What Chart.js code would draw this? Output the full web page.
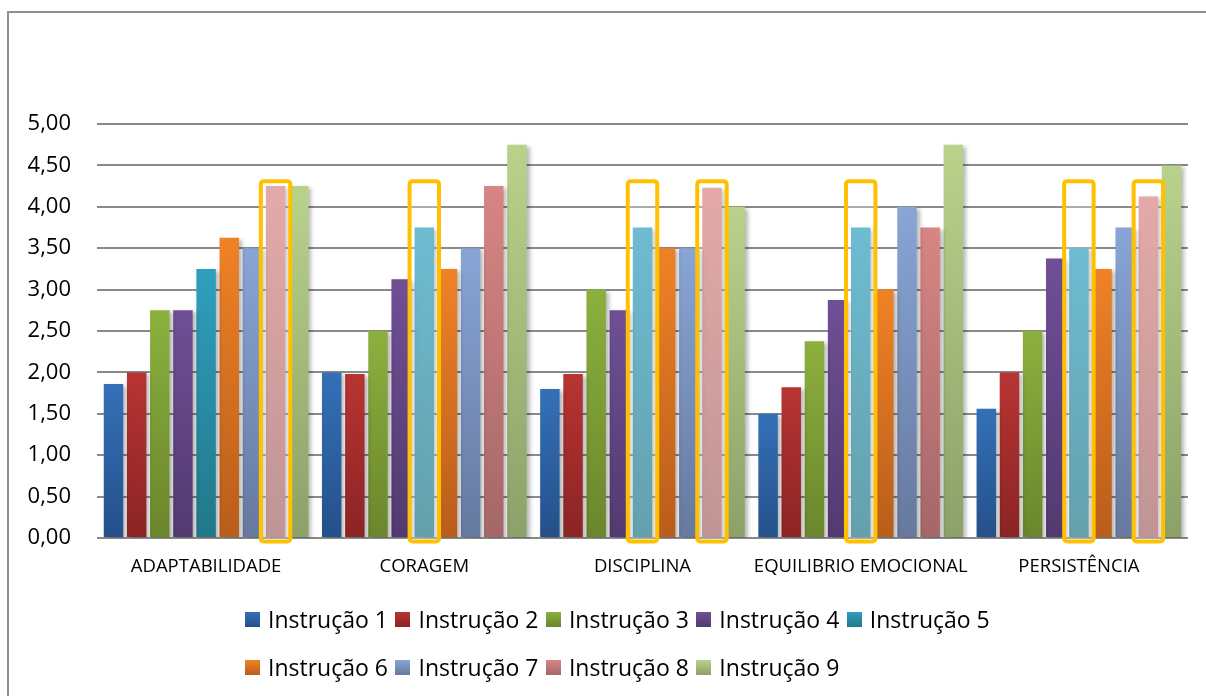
<!DOCTYPE html>
<html>
<head>
<meta charset="utf-8">
<script src="https://cdn.jsdelivr.net/npm/chart.js@4.4.0/dist/chart.umd.min.js"></script>
<style>
  html, body { margin: 0; padding: 0; background: #fff; overflow: hidden; width: 1206px; height: 696px; }
  #wrap { position: relative; width: 1206px; height: 696px; overflow: hidden; }
  #frame { position: absolute; left: 7px; top: 11px; width: 1300px; height: 800px; border: 2px solid #8f8f8f; pointer-events: none; }
  canvas { position: absolute; left: 0; top: 0; }
  #legend { position: absolute; left: 245px; top: 595px; width: 790px; display: flex; flex-wrap: wrap;
            font-family: 'Open Sans', sans-serif; font-size: 23px; color: #000; }
  #legend .item { display: flex; align-items: center; height: 48px; margin-right: 7.5px; white-space: nowrap; }
  #legend .sw { width: 15px; height: 15px; margin-right: 8px; }
</style>
</head>
<body>
<div id="wrap">
  <canvas id="chart" width="1206" height="696"></canvas>
  <div id="frame"></div>
  <div id="legend"></div>
</div>
<script>
// Categories and the nine instruction series (mean scores, 0–5 scale)
const categories = ['ADAPTABILIDADE', 'CORAGEM', 'DISCIPLINA', 'EQUILIBRIO EMOCIONAL', 'PERSISTÊNCIA'];
const seriesNames = ['Instrução 1', 'Instrução 2', 'Instrução 3', 'Instrução 4', 'Instrução 5',
                     'Instrução 6', 'Instrução 7', 'Instrução 8', 'Instrução 9'];

const instrucao1 = [1.86, 2.00, 1.80, 1.50, 1.56];
const instrucao2 = [2.00, 1.98, 1.98, 1.82, 2.00];
const instrucao3 = [2.75, 2.50, 3.00, 2.375, 2.50];
const instrucao4 = [2.75, 3.125, 2.75, 2.875, 3.375];
const instrucao5 = [3.25, 3.75, 3.75, 3.75, 3.50];
const instrucao6 = [3.625, 3.25, 3.50, 3.00, 3.25];
const instrucao7 = [3.50, 3.50, 3.50, 4.00, 3.75];
const instrucao8 = [4.25, 4.25, 4.23, 3.75, 4.125];
const instrucao9 = [4.25, 4.75, 4.00, 4.75, 4.50];

const yTickLabels = ['0,00', '0,50', '1,00', '1,50', '2,00', '2,50', '3,00', '3,50', '4,00', '4,50', '5,00'];

// Bars outlined in yellow: category index and series index
const highlightCategory = [0, 1, 2, 2, 3, 4, 4];
const highlightSeries   = [7, 4, 4, 7, 4, 4, 7];

const seriesValues = [instrucao1, instrucao2, instrucao3, instrucao4, instrucao5,
                      instrucao6, instrucao7, instrucao8, instrucao9];

// Vertical gradient per series: light at the top, darker at the base
const colorTop    = ['#3470b7', '#b83433', '#8cb03e', '#704f96', '#2f9fbf', '#ef8226', '#88a5d6', '#d88584', '#b9d28b'];
const colorBottom = ['#24508a', '#8b2424', '#6a862c', '#523a70', '#217889', '#b95d1b', '#66799f', '#a56767', '#8ca168'];

const HIGHLIGHT_TOP = 4.31;

function barGradient(i) {
  return (ctx) => {
    const chart = ctx.chart;
    if (!chart.chartArea || ctx.type !== 'data') return colorTop[i];
    const y = chart.scales.y;
    const top = y.getPixelForValue(ctx.raw);
    const base = y.getPixelForValue(0);
    const g = chart.ctx.createLinearGradient(0, top, 0, base);
    g.addColorStop(0, colorTop[i]);
    g.addColorStop(1, colorBottom[i]);
    return g;
  };
}

const datasets = seriesValues.map((vals, i) => ({
  label: seriesNames[i],
  data: vals,
  backgroundColor: barGradient(i),
  borderWidth: 0,
  categoryPercentage: 0.955,
  barPercentage: 0.84
}));

// Soft drop shadow behind the bars
const barShadow = {
  id: 'barShadow',
  beforeDatasetsDraw(chart) {
    const c = chart.ctx;
    c.save();
    c.shadowColor = 'rgba(0,0,0,0.28)';
    c.shadowBlur = 4;
    c.shadowOffsetX = 3;
    c.shadowOffsetY = 2;
  },
  afterDatasetsDraw(chart) {
    chart.ctx.restore();
  }
};

// Rounded yellow frames around selected bars
const highlightFrames = {
  id: 'highlightFrames',
  afterDatasetsDraw(chart) {
    const c = chart.ctx;
    const y = chart.scales.y;
    const top = y.getPixelForValue(HIGHLIGHT_TOP);
    const bottom = y.getPixelForValue(0) + 3.5;
    highlightCategory.forEach((cat, k) => {
      const bar = chart.getDatasetMeta(highlightSeries[k]).data[cat];
      const half = bar.width / 2 + 5;
      c.save();
      c.beginPath();
      c.roundRect(bar.x - half, top, half * 2, bottom - top, 3);
      c.fillStyle = 'rgba(255,255,255,0.3)';
      c.fill();
      c.lineWidth = 4;
      c.strokeStyle = '#ffc000';
      c.stroke();
      c.restore();
    });
  }
};

// Legend rendered as HTML, built from the chart's datasets
const htmlLegend = {
  id: 'htmlLegend',
  afterUpdate(chart) {
    const box = document.getElementById('legend');
    box.innerHTML = '';
    chart.data.datasets.forEach((ds, i) => {
      const item = document.createElement('div');
      item.className = 'item';
      const sw = document.createElement('span');
      sw.className = 'sw';
      sw.style.background = 'linear-gradient(' + colorTop[i] + ',' + colorBottom[i] + ')';
      const tx = document.createElement('span');
      tx.textContent = ds.label;
      item.appendChild(sw);
      item.appendChild(tx);
      box.appendChild(item);
    });
  }
};

function draw() {
  Chart.defaults.font.family = "'Open Sans', sans-serif";
  Chart.defaults.color = '#000';
  new Chart(document.getElementById('chart'), {
    type: 'bar',
    data: { labels: categories, datasets },
    plugins: [barShadow, highlightFrames, htmlLegend],
    options: {
      responsive: false,
      devicePixelRatio: 1,
      animation: false,
      layout: { padding: { left: 0, right: 18, top: 124, bottom: 118 } },
      plugins: { legend: { display: false }, tooltip: { enabled: false } },
      scales: {
        x: {
          grid: { display: false },
          border: { display: false },
          ticks: { font: { size: 18.5 }, padding: 10, maxRotation: 0, autoSkip: false, color: '#000' },
          afterFit(s) { s.height = 40; }
        },
        y: {
          min: 0,
          max: 5,
          grid: { color: '#8a8a8a', lineWidth: 2, drawTicks: false },
          border: { display: false },
          ticks: {
            stepSize: 0.5,
            padding: 26,
            font: { size: 22 },
            color: '#000',
            callback: (v, idx) => yTickLabels[idx]
          },
          afterFit(s) { s.width = 97; }
        }
      }
    }
  });
}

if (document.fonts && document.fonts.load) {
  document.fonts.load("23px 'Open Sans'").then(draw, draw);
} else {
  draw();
}
</script>
</body>
</html>
